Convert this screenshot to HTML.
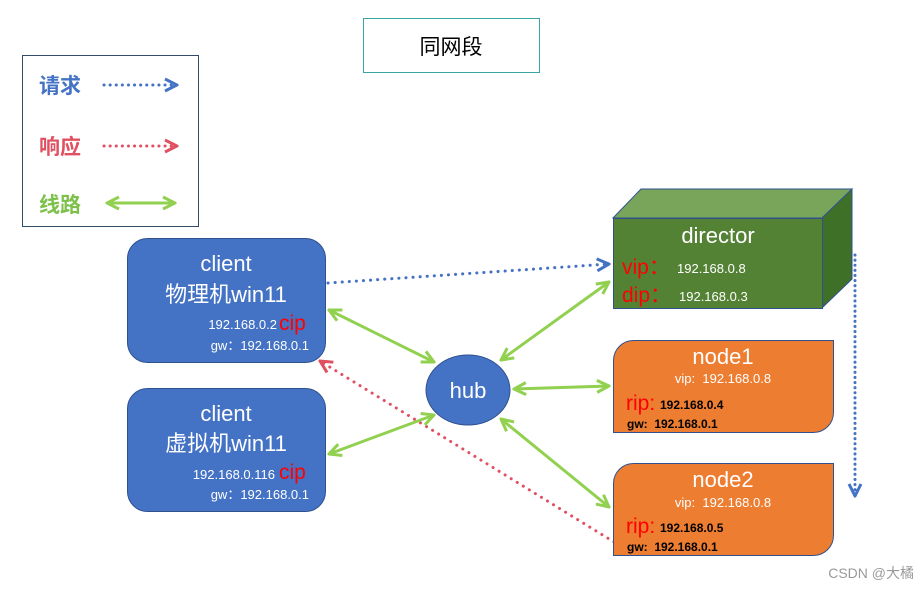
<!DOCTYPE html>
<html><head><meta charset="utf-8"><style>
body{margin:0;background:#fff;}
svg text{font-family:"Liberation Sans","Noto Sans CJK SC",sans-serif;}
</style></head><body>
<svg width="921" height="588" viewBox="0 0 921 588" xmlns="http://www.w3.org/2000/svg">
<defs>
<marker id="gA" viewBox="0 0 10 10" refX="9" refY="5" markerWidth="5" markerHeight="5" orient="auto-start-reverse"><path d="M1,1 L9,5 L1,9" fill="none" stroke="#92d050" stroke-width="2"/></marker>
<marker id="bA" viewBox="0 0 10 10" refX="9" refY="5" markerWidth="5" markerHeight="5" orient="auto"><path d="M1,1 L9,5 L1,9" fill="none" stroke="#4472c4" stroke-width="2"/></marker>
<marker id="rA" viewBox="0 0 10 10" refX="9" refY="5" markerWidth="5" markerHeight="5" orient="auto"><path d="M1,1 L9,5 L1,9" fill="none" stroke="#e05060" stroke-width="2"/></marker>
</defs>
<rect x="363.5" y="18.5" width="176" height="54" fill="#fff" stroke="#3aa3a3"/>
<text x="451" y="54" font-size="21" text-anchor="middle" fill="#000">同网段</text>
<rect x="22.5" y="55.5" width="176" height="171" fill="#fff" stroke="#2f4d6b"/>
<text x="39" y="93" font-size="21" font-weight="bold" fill="#4472c4">请求</text>
<line x1="104" y1="85" x2="177" y2="85" stroke="#4472c4" stroke-width="3" stroke-linecap="round" stroke-dasharray="0.1 6" marker-end="url(#bA)"/>
<text x="39" y="154" font-size="21" font-weight="bold" fill="#e05060">响应</text>
<line x1="104" y1="146" x2="177" y2="146" stroke="#e05060" stroke-width="3" stroke-linecap="round" stroke-dasharray="0.1 6" marker-end="url(#rA)"/>
<text x="39" y="212" font-size="21" font-weight="bold" fill="#7cc04a">线路</text>
<line x1="107" y1="203" x2="175" y2="203" stroke="#92d050" stroke-width="3" marker-start="url(#gA)" marker-end="url(#gA)"/>
<line x1="328" y1="283" x2="609" y2="264" stroke="#4472c4" stroke-width="3" stroke-linecap="round" stroke-dasharray="0.1 7" marker-end="url(#bA)"/>
<line x1="614" y1="542" x2="320" y2="361" stroke="#e05060" stroke-width="3" stroke-linecap="round" stroke-dasharray="0.1 7" marker-end="url(#rA)"/>
<line x1="855" y1="255" x2="855" y2="496" stroke="#4472c4" stroke-width="3" stroke-linecap="round" stroke-dasharray="0.1 5" marker-end="url(#bA)"/>
<g stroke="#92d050" stroke-width="3">
<line x1="329" y1="310" x2="434" y2="362" marker-start="url(#gA)" marker-end="url(#gA)"/>
<line x1="329" y1="454" x2="434" y2="415" marker-start="url(#gA)" marker-end="url(#gA)"/>
<line x1="501" y1="360" x2="609" y2="282" marker-start="url(#gA)" marker-end="url(#gA)"/>
<line x1="514" y1="389" x2="609" y2="386" marker-start="url(#gA)" marker-end="url(#gA)"/>
<line x1="501" y1="419" x2="609" y2="507" marker-start="url(#gA)" marker-end="url(#gA)"/>
</g>
<rect x="127.5" y="238.5" width="198" height="124" rx="20" fill="#4472c4" stroke="#2f528f"/>
<text x="226" y="271" font-size="22" fill="#fff" text-anchor="middle">client</text>
<text x="226" y="302" font-size="22" fill="#fff" text-anchor="middle">物理机win11</text>
<text x="277" y="329" font-size="13" fill="#fff" text-anchor="end">192.168.0.2</text>
<text x="279" y="330" font-size="21" fill="#ff0000">cip</text>
<text x="309" y="350" font-size="13" fill="#fff" text-anchor="end">gw：192.168.0.1</text>
<rect x="127.5" y="388.5" width="198" height="123" rx="20" fill="#4472c4" stroke="#2f528f"/>
<text x="226" y="421" font-size="22" fill="#fff" text-anchor="middle">client</text>
<text x="226" y="451" font-size="22" fill="#fff" text-anchor="middle">虚拟机win11</text>
<text x="275" y="479" font-size="13" fill="#fff" text-anchor="end">192.168.0.116</text>
<text x="279" y="479" font-size="21" fill="#ff0000">cip</text>
<text x="309" y="499" font-size="13" fill="#fff" text-anchor="end">gw：192.168.0.1</text>
<ellipse cx="468" cy="390" rx="42" ry="35" fill="#4472c4" stroke="#2f528f"/>
<text x="468" y="398" font-size="22" fill="#fff" text-anchor="middle">hub</text>
<polygon points="613,218 641,189 852,189 822,218" fill="#78a55a" stroke="#2f528f"/>
<polygon points="822,218 852,189 852,279 822,308" fill="#3f7028" stroke="#2f528f"/>
<rect x="613.5" y="218.5" width="209" height="90" fill="#548235" stroke="#2f528f"/>
<text x="718" y="243" font-size="22" fill="#fff" text-anchor="middle">director</text>
<text x="622" y="274" font-size="21" fill="#ff0000">vip：</text>
<text x="677" y="273" font-size="13" fill="#fff">192.168.0.8</text>
<text x="622" y="302" font-size="21" fill="#ff0000">dip：</text>
<text x="679" y="301" font-size="13" fill="#fff">192.168.0.3</text>
<path d="M633.5,340.5 H833.5 V412.5 A20,20 0 0 1 813.5,432.5 H613.5 V360.5 A20,20 0 0 1 633.5,340.5 Z" fill="#ed7d31" stroke="#2f528f"/>
<text x="723" y="364" font-size="22" fill="#fff" text-anchor="middle">node1</text>
<text x="723" y="383" font-size="13" fill="#fff" text-anchor="middle" xml:space="preserve">vip:  192.168.0.8</text>
<text x="626" y="410" font-size="21" fill="#ff0000">rip:</text>
<text x="660" y="409" font-size="12" font-weight="bold" fill="#000">192.168.0.4</text>
<text x="627" y="428" font-size="12" font-weight="bold" fill="#000" xml:space="preserve">gw:  192.168.0.1</text>
<path d="M633.5,463.5 H833.5 V535.5 A20,20 0 0 1 813.5,555.5 H613.5 V483.5 A20,20 0 0 1 633.5,463.5 Z" fill="#ed7d31" stroke="#2f528f"/>
<text x="723" y="487" font-size="22" fill="#fff" text-anchor="middle">node2</text>
<text x="723" y="507" font-size="13" fill="#fff" text-anchor="middle" xml:space="preserve">vip:  192.168.0.8</text>
<text x="626" y="533" font-size="21" fill="#ff0000">rip:</text>
<text x="660" y="532" font-size="12" font-weight="bold" fill="#000">192.168.0.5</text>
<text x="627" y="551" font-size="12" font-weight="bold" fill="#000" xml:space="preserve">gw:  192.168.0.1</text>
<text x="914" y="578" font-size="14" fill="#9a9a9a" text-anchor="end">CSDN @大橘</text>
</svg>
</body></html>
